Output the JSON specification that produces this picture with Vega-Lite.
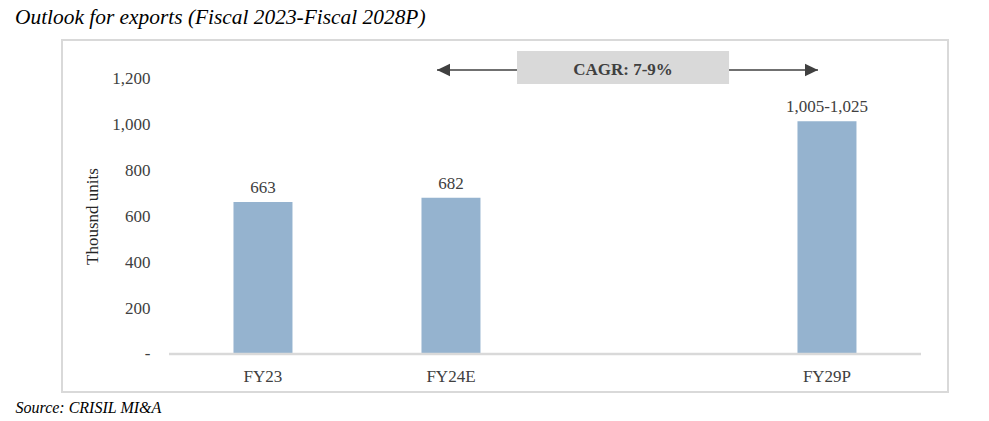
{
  "$schema": "https://vega.github.io/schema/vega-lite/v6.json",
  "width": 886,
  "height": 352,
  "autosize": {"type": "none"},
  "padding": {"left": 62, "top": 40, "right": 41, "bottom": 29},
  "background": "white",
  "config": {
    "view": {"stroke": "#d9d9d9", "strokeWidth": 2},
    "font": "Liberation Serif"
  },
  "title": {
    "text": "Outlook for exports (Fiscal 2023-Fiscal 2028P)",
    "anchor": "start",
    "frame": "group",
    "dx": -47,
    "offset": 12,
    "fontSize": 21.4,
    "fontStyle": "italic",
    "fontWeight": "normal",
    "font": "Liberation Serif",
    "color": "#000000"
  },
  "datasets": {
    "exports": [
      {"year": "FY23", "value": 663, "label": "663"},
      {"year": "FY24E", "value": 682, "label": "682"},
      {"year": "FY29P", "value": 1015, "label": "1,005-1,025"}
    ],
    "baseline": [{"from": -0.5, "to": 3.5, "v": 0}],
    "cagr": [{"start": 0.9255, "end": 2.952, "boxStart": 1.351, "boxEnd": 2.479, "mid": 1.915, "level": 1239, "boxLow": 1178, "boxHigh": 1322, "text": "CAGR: 7-9%"}]
  },
  "layer": [
    {
      "data": {"name": "exports"},
      "mark": {"type": "bar", "color": "#95b3cf"},
      "encoding": {
        "x": {
          "field": "year",
          "type": "nominal",
          "sort": null,
          "scale": {"type": "band", "domain": ["FY23", "FY24E", " ", "FY29P"], "paddingInner": 0.6862, "paddingOuter": 0.6995, "align": 0.652},
          "axis": {
            "labelAngle": 0,
            "domain": false,
            "ticks": false,
            "offset": -38,
            "labelPadding": 14,
            "labelFontSize": 17,
            "labelColor": "#404040",
            "labelFont": "Liberation Serif",
            "title": "Source: CRISIL MI&A",
            "titleFont": "Liberation Serif",
            "titleFontSize": 16,
            "titleFontStyle": "italic",
            "titleFontWeight": "normal",
            "titleColor": "#000000",
            "titleX": -47,
            "titleY": 53,
            "titleAlign": "left",
            "titleAnchor": "start",
            "titleBaseline": "middle"
          }
        },
        "y": {
          "field": "value",
          "type": "quantitative",
          "scale": {"domain": [-166, 1370], "nice": false, "zero": false},
          "axis": {
            "values": [0, 200, 400, 600, 800, 1000, 1200],
            "labelExpr": "datum.value == 0 ? '-\u00a0\u00a0' : format(datum.value, ',')",
            "grid": false,
            "domain": false,
            "ticks": false,
            "zindex": 1,
            "offset": -92,
            "labelPadding": 4,
            "labelFontSize": 17,
            "labelColor": "#404040",
            "labelFont": "Liberation Serif",
            "title": "Thousnd units",
            "titleFont": "Liberation Serif",
            "titleFontSize": 17,
            "titleFontWeight": "normal",
            "titleColor": "#262626",
            "titlePadding": 10
          }
        },
        "y2": {"datum": 0}
      }
    },
    {
      "data": {"name": "exports"},
      "mark": {"type": "text", "dy": -14, "fontSize": 17, "color": "#404040", "font": "Liberation Serif"},
      "encoding": {
        "x": {
          "field": "year",
          "type": "nominal",
          "sort": null,
          "scale": {"type": "band", "domain": ["FY23", "FY24E", " ", "FY29P"], "paddingInner": 0.6862, "paddingOuter": 0.6995, "align": 0.652},
          "axis": null
        },
        "y": {"field": "value", "type": "quantitative", "scale": {"domain": [-166, 1370], "nice": false, "zero": false}},
        "text": {"field": "label"}
      }
    },
    {
      "data": {"name": "baseline"},
      "mark": {"type": "rule", "color": "#d9d9d9", "strokeWidth": 2.5},
      "encoding": {
        "x": {"field": "from", "type": "quantitative", "scale": {"domain": [-1.0691, 3.6436], "nice": false, "zero": false}, "axis": null},
        "x2": {"field": "to"},
        "y": {"field": "v", "type": "quantitative", "scale": {"domain": [-166, 1370], "nice": false, "zero": false}}
      }
    },
    {
      "data": {"name": "cagr"},
      "mark": {"type": "rule", "color": "#404040", "strokeWidth": 1.7},
      "encoding": {
        "x": {"field": "start", "type": "quantitative", "scale": {"domain": [-1.0691, 3.6436], "nice": false, "zero": false}, "axis": null},
        "x2": {"field": "end"},
        "y": {"field": "level", "type": "quantitative", "scale": {"domain": [-166, 1370], "nice": false, "zero": false}}
      }
    },
    {
      "data": {"name": "cagr"},
      "mark": {"type": "point", "shape": "M-1,0L1,-0.95L1,0.95Z", "size": 169, "filled": true, "opacity": 1, "color": "#404040", "xOffset": 6.5},
      "encoding": {
        "x": {"field": "start", "type": "quantitative", "scale": {"domain": [-1.0691, 3.6436], "nice": false, "zero": false}, "axis": null},
        "y": {"field": "level", "type": "quantitative", "scale": {"domain": [-166, 1370], "nice": false, "zero": false}}
      }
    },
    {
      "data": {"name": "cagr"},
      "mark": {"type": "point", "shape": "M1,0L-1,-0.95L-1,0.95Z", "size": 169, "filled": true, "opacity": 1, "color": "#404040", "xOffset": -6.5},
      "encoding": {
        "x": {"field": "end", "type": "quantitative", "scale": {"domain": [-1.0691, 3.6436], "nice": false, "zero": false}, "axis": null},
        "y": {"field": "level", "type": "quantitative", "scale": {"domain": [-166, 1370], "nice": false, "zero": false}}
      }
    },
    {
      "data": {"name": "cagr"},
      "mark": {"type": "rect", "color": "#d9d9d9"},
      "encoding": {
        "x": {"field": "boxStart", "type": "quantitative", "scale": {"domain": [-1.0691, 3.6436], "nice": false, "zero": false}, "axis": null},
        "x2": {"field": "boxEnd"},
        "y": {"field": "boxLow", "type": "quantitative", "scale": {"domain": [-166, 1370], "nice": false, "zero": false}},
        "y2": {"field": "boxHigh"}
      }
    },
    {
      "data": {"name": "cagr"},
      "mark": {"type": "text", "fontSize": 17, "fontWeight": "bold", "color": "#404040", "font": "Liberation Serif", "baseline": "middle"},
      "encoding": {
        "x": {"field": "mid", "type": "quantitative", "scale": {"domain": [-1.0691, 3.6436], "nice": false, "zero": false}, "axis": null},
        "y": {"field": "level", "type": "quantitative", "scale": {"domain": [-166, 1370], "nice": false, "zero": false}},
        "text": {"field": "text"}
      }
    }
  ],
  "resolve": {"scale": {"x": "independent"}}
}
